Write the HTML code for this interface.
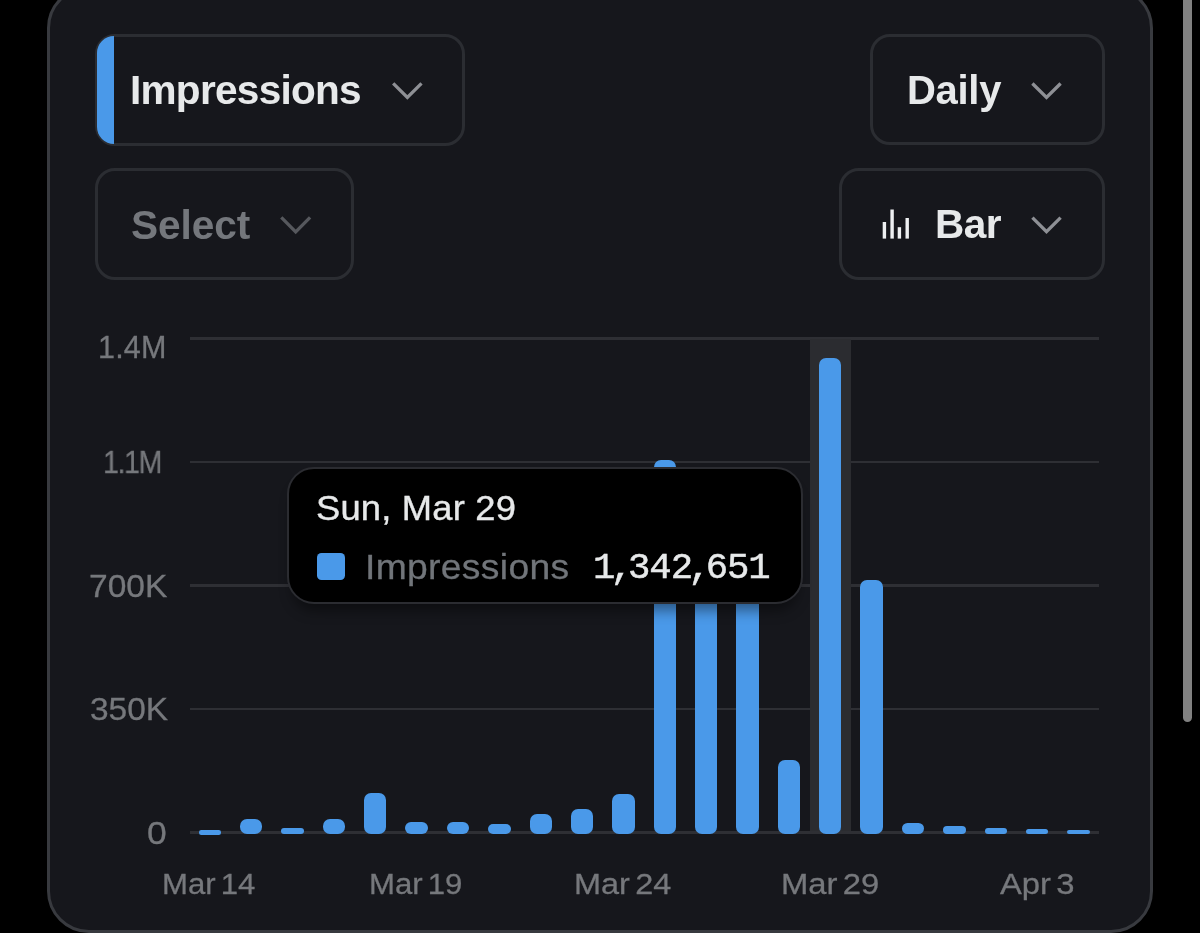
<!DOCTYPE html>
<html><head><meta charset="utf-8"><title>Impressions</title>
<style>
html,body{margin:0;padding:0;background:#000;}
body{width:1200px;height:933px;overflow:hidden;position:relative;font-family:"Liberation Sans",sans-serif;}
.abs{position:absolute;}
.panel{position:absolute;box-sizing:border-box;left:47.4px;top:-14px;width:1105.4px;height:947px;border:3.1px solid #383a3f;border-bottom-width:3.4px;border-radius:42px;background:#16171c;}
.btn{position:absolute;box-sizing:border-box;border:3.1px solid #2b2d32;border-radius:20px;overflow:hidden;}
.t{position:absolute;white-space:nowrap;will-change:transform;}
.g{position:absolute;left:190px;width:909px;height:2.4px;margin-top:-0.2px;background:#2e2f34;}
.b{position:absolute;width:22.4px;background:#4a99e9;}
.c{margin:0 -3.85px;}
.sb{position:absolute;left:1183px;top:-10px;width:9px;height:732px;border-radius:4.5px;background:#818181;}
</style></head><body>
<div class="panel"></div>
<div class="sb"></div>

<div class="btn" style="left:95px;top:34.1px;width:370.2px;height:111.5px;"></div>
<div class="abs" style="left:96.8px;top:36px;width:17.7px;height:107.8px;border-radius:18.5px 0 0 18.5px;background:#4a99e9"></div>
<div class="btn" style="left:95px;top:168.4px;width:258.8px;height:111.5px;"></div>
<div class="btn" style="left:870px;top:34.1px;width:235px;height:111.1px;"></div>
<div class="btn" style="left:839px;top:168.3px;width:266px;height:111.5px;"></div>

<div class="t" style="left:130.40px;top:69.73px;font-size:40.6px;line-height:40.6px;letter-spacing:-0.74px;color:#e7e9ea;font-weight:700;font-family:'Liberation Sans',sans-serif;">Impressions</div>
<div class="t" style="left:131.00px;top:204.53px;font-size:40.6px;line-height:40.6px;letter-spacing:-0.08px;color:#74777c;font-weight:700;font-family:'Liberation Sans',sans-serif;">Select</div>
<div class="t" style="left:906.60px;top:70.14px;font-size:40.0px;line-height:40.0px;letter-spacing:-0.3px;color:#e7e9ea;font-weight:700;font-family:'Liberation Sans',sans-serif;">Daily</div>
<div class="t" style="left:934.90px;top:204.03px;font-size:40.6px;line-height:40.6px;letter-spacing:-0.55px;color:#e7e9ea;font-weight:700;font-family:'Liberation Sans',sans-serif;">Bar</div>
<svg class="abs" style="left:389px;top:79px" width="38" height="24" viewBox="389 79 38 24"><path d="M393.20 83.30 L407.35 97.50 L421.50 83.30" fill="none" stroke="#8e9095" stroke-width="3.3" stroke-linecap="butt" stroke-linejoin="miter"/></svg>
<svg class="abs" style="left:277px;top:213px" width="38" height="24" viewBox="277 213 38 24"><path d="M281.30 217.40 L295.70 231.90 L310.10 217.40" fill="none" stroke="#56585d" stroke-width="3.3" stroke-linecap="butt" stroke-linejoin="miter"/></svg>
<svg class="abs" style="left:1028px;top:79px" width="38" height="24" viewBox="1028 79 38 24"><path d="M1032.40 83.50 L1046.50 97.50 L1060.60 83.50" fill="none" stroke="#8e9095" stroke-width="3.3" stroke-linecap="butt" stroke-linejoin="miter"/></svg>
<svg class="abs" style="left:1028px;top:213px" width="38" height="24" viewBox="1028 213 38 24"><path d="M1032.40 217.70 L1046.50 231.70 L1060.60 217.70" fill="none" stroke="#8e9095" stroke-width="3.3" stroke-linecap="butt" stroke-linejoin="miter"/></svg>

<svg class="abs" style="left:880px;top:205px" width="34" height="38" viewBox="0 0 34 38">
<g fill="#eef0f2"><rect x="2.7" y="17.0" width="3.4" height="16.6"/><rect x="10.4" y="4.5" width="3.4" height="29.1"/><rect x="17.7" y="22.2" width="3.4" height="11.4"/><rect x="25.5" y="13" width="3.4" height="20.6"/></g></svg>

<div class="g" style="top:337.4px"></div>
<div class="g" style="top:460.9px"></div>
<div class="g" style="top:584.4px"></div>
<div class="g" style="top:707.9px"></div>
<div class="abs" style="left:810.1px;top:339.4px;width:40.9px;height:492px;background:#2b2c30"></div>
<div class="g" style="top:831.4px"></div>

<div class="t" style="left:97.50px;top:332.18px;font-size:30.5px;line-height:30.5px;letter-spacing:0.17px;color:#76787c;font-weight:400;font-family:'Liberation Sans',sans-serif;-webkit-text-stroke:0.3px #76787c;">1.4M</div>
<div class="t" style="left:103.39px;top:447.38px;font-size:30.5px;line-height:30.5px;letter-spacing:-1.5px;color:#76787c;font-weight:400;font-family:'Liberation Sans',sans-serif;-webkit-text-stroke:0.3px #76787c;transform:scaleX(0.9368);transform-origin:0 0;">1.1M</div>
<div class="t" style="left:89.35px;top:571.38px;font-size:30.5px;line-height:30.5px;letter-spacing:0px;color:#76787c;font-weight:400;font-family:'Liberation Sans',sans-serif;-webkit-text-stroke:0.3px #76787c;transform:scaleX(1.1004);transform-origin:0 0;">700K</div>
<div class="t" style="left:89.63px;top:693.98px;font-size:30.5px;line-height:30.5px;letter-spacing:0px;color:#76787c;font-weight:400;font-family:'Liberation Sans',sans-serif;-webkit-text-stroke:0.3px #76787c;transform:scaleX(1.0964);transform-origin:0 0;">350K</div>
<div class="t" style="left:147.14px;top:817.88px;font-size:30.5px;line-height:30.5px;letter-spacing:0px;color:#76787c;font-weight:400;font-family:'Liberation Sans',sans-serif;-webkit-text-stroke:0.3px #76787c;transform:scaleX(1.1655);transform-origin:0 0;">0</div>

<div class="t" style="left:162.42px;top:868.64px;font-size:30.2px;line-height:30.2px;letter-spacing:0px;color:#76787c;font-weight:400;font-family:'Liberation Sans',sans-serif;-webkit-text-stroke:0.3px #76787c;transform:scaleX(1.0327);transform-origin:0 0;"><span style="word-spacing:-0.115em">Mar 14</span></div>
<div class="t" style="left:369.12px;top:868.64px;font-size:30.2px;line-height:30.2px;letter-spacing:0px;color:#76787c;font-weight:400;font-family:'Liberation Sans',sans-serif;-webkit-text-stroke:0.3px #76787c;transform:scaleX(1.0329);transform-origin:0 0;"><span style="word-spacing:-0.115em">Mar 19</span></div>
<div class="t" style="left:573.81px;top:868.64px;font-size:30.2px;line-height:30.2px;letter-spacing:0px;color:#76787c;font-weight:400;font-family:'Liberation Sans',sans-serif;-webkit-text-stroke:0.3px #76787c;transform:scaleX(1.0751);transform-origin:0 0;"><span style="word-spacing:-0.115em">Mar 24</span></div>
<div class="t" style="left:780.78px;top:868.64px;font-size:30.2px;line-height:30.2px;letter-spacing:0px;color:#76787c;font-weight:400;font-family:'Liberation Sans',sans-serif;-webkit-text-stroke:0.3px #76787c;transform:scaleX(1.0870);transform-origin:0 0;"><span style="word-spacing:-0.115em">Mar 29</span></div>
<div class="t" style="left:1000.30px;top:868.64px;font-size:30.2px;line-height:30.2px;letter-spacing:0px;color:#76787c;font-weight:400;font-family:'Liberation Sans',sans-serif;-webkit-text-stroke:0.3px #76787c;transform:scaleX(1.0859);transform-origin:0 0;"><span style="word-spacing:-0.115em">Apr 3</span></div>

<div class="b" style="left:198.55px;top:830.40px;height:4.40px;border-radius:2.20px"></div>
<div class="b" style="left:239.92px;top:819.00px;height:15.10px;border-radius:7.00px"></div>
<div class="b" style="left:281.29px;top:828.10px;height:6.00px;border-radius:3.00px"></div>
<div class="b" style="left:322.66px;top:819.00px;height:15.10px;border-radius:7.00px"></div>
<div class="b" style="left:364.03px;top:793.00px;height:41.10px;border-radius:7.00px"></div>
<div class="b" style="left:405.40px;top:822.00px;height:12.10px;border-radius:6.05px"></div>
<div class="b" style="left:446.77px;top:822.00px;height:12.10px;border-radius:6.05px"></div>
<div class="b" style="left:488.14px;top:824.00px;height:10.10px;border-radius:5.05px"></div>
<div class="b" style="left:529.51px;top:813.50px;height:20.60px;border-radius:7.00px"></div>
<div class="b" style="left:570.88px;top:808.50px;height:25.60px;border-radius:7.00px"></div>
<div class="b" style="left:612.25px;top:794.00px;height:40.10px;border-radius:7.00px"></div>
<div class="b" style="left:653.62px;top:459.80px;height:374.30px;border-radius:7.00px"></div>
<div class="b" style="left:694.99px;top:520.00px;height:314.10px;border-radius:7.00px"></div>
<div class="b" style="left:736.36px;top:540.00px;height:294.10px;border-radius:7.00px"></div>
<div class="b" style="left:777.73px;top:760.00px;height:74.10px;border-radius:7.00px"></div>
<div class="b" style="left:819.10px;top:357.60px;height:476.50px;border-radius:7.00px"></div>
<div class="b" style="left:860.47px;top:580.30px;height:253.80px;border-radius:7.00px"></div>
<div class="b" style="left:901.84px;top:822.50px;height:11.60px;border-radius:5.80px"></div>
<div class="b" style="left:943.21px;top:825.50px;height:8.60px;border-radius:4.30px"></div>
<div class="b" style="left:984.58px;top:827.50px;height:6.60px;border-radius:3.30px"></div>
<div class="b" style="left:1025.95px;top:829.00px;height:5.10px;border-radius:2.55px"></div>
<div class="b" style="left:1067.32px;top:830.00px;height:4.10px;border-radius:2.05px"></div>

<div class="abs" style="left:286.5px;top:467px;width:516px;height:136.5px;box-sizing:border-box;border:2.8px solid #2b2c31;border-radius:27px;background:#000;box-shadow:0 12px 14px -6px rgba(0,0,0,0.45)"></div>
<div class="t" style="left:316.25px;top:490.20px;font-size:35.2px;line-height:35.2px;letter-spacing:0.2px;color:#e7e9ea;font-weight:400;font-family:'Liberation Sans',sans-serif;-webkit-text-stroke:0.35px #e7e9ea;transform:scaleX(1.0322);transform-origin:0 0;">Sun, Mar 29</div>
<div class="abs" style="left:317px;top:552.5px;width:28px;height:27.5px;border-radius:4.5px;background:#4a99e9"></div>
<div class="t" style="left:364.84px;top:548.57px;font-size:35px;line-height:35px;letter-spacing:0.3px;color:#71757a;font-weight:400;font-family:'Liberation Sans',sans-serif;-webkit-text-stroke:0.3px #71757a;transform:scaleX(1.0649);transform-origin:0 0;">Impressions</div>
<div class="t" style="left:593.00px;top:549.61px;font-size:37.3px;line-height:37.3px;letter-spacing:0px;color:#e7e9ea;font-weight:400;font-family:'Liberation Mono',sans-serif;-webkit-text-stroke:0.5px #e7e9ea;letter-spacing:-1.05px;">1<span class="c">,</span>342<span class="c">,</span>651</div>
</body></html>
